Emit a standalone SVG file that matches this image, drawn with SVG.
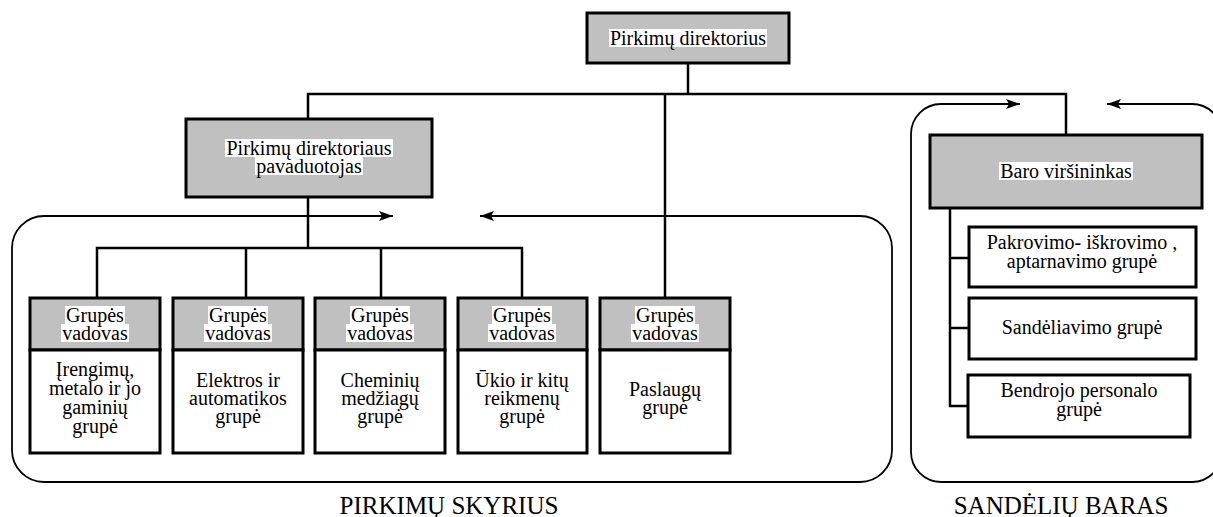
<svg xmlns="http://www.w3.org/2000/svg" width="1213" height="517" viewBox="0 0 1213 517" font-family="'Liberation Serif', 'Times New Roman', serif">
  <style>
    text { font-family: "Liberation Serif", "Times New Roman", serif; font-size: 20px; fill: #000; text-anchor: middle; }
    .mark { fill: #fff; }
    .box { stroke: #000; stroke-width: 3; }
    .gray { fill: #c0c0c0; }
    .white { fill: #fff; }
    .wire { fill: none; stroke: #000; stroke-width: 2.5; stroke-linejoin: miter; }
    .frame { fill: none; stroke: #000; stroke-width: 1.8; }
    .unit { font-size: 25px; }
  </style>
  <defs>
    <marker id="arr" viewBox="0 0 14 10" refX="14" refY="5" markerWidth="14" markerHeight="10" markerUnits="userSpaceOnUse" orient="auto-start-reverse">
      <path d="M0,0 L14,5 L0,10 L3,5 Z" fill="#000"/>
    </marker>
  </defs>

  <!-- department frames -->
  <g id="frames">
    <path class="frame" marker-start="url(#arr)" marker-end="url(#arr)"
          d="M393,216 H44 A32,32 0 0 0 12,248 V450 A32,32 0 0 0 44,482 H860 A32,32 0 0 0 892,450 V248 A32,32 0 0 0 860,216 H480"/>
    <path class="frame" marker-start="url(#arr)" marker-end="url(#arr)"
          d="M1020,104 H941 A30,30 0 0 0 911,134 V452 A30,30 0 0 0 941,482 H1192 A30,30 0 0 0 1222,452 V134 A30,30 0 0 0 1192,104 H1107"/>
  </g>

  <!-- connectors -->
  <g id="connectors">
    <polyline class="wire" points="688,63 688,94"/>
    <polyline class="wire" points="308,119 308,94 1066,94 1066,135"/>
    <polyline class="wire" points="665,94 665,298"/>
    <polyline class="wire" points="308,197 308,248"/>
    <polyline class="wire" points="97,298 97,248 522,248 522,298"/>
    <polyline class="wire" points="246,248 246,298"/>
    <polyline class="wire" points="381,248 381,298"/>
    <polyline class="wire" points="950,208 950,406 968,406"/>
    <polyline class="wire" points="950,258 969,258"/>
    <polyline class="wire" points="950,328 969,328"/>
  </g>

  <!-- top level -->
  <g id="director">
    <rect class="box gray" x="587" y="13" width="202" height="50"/>
    <rect class="mark" x="609" y="29" width="158" height="18"/>
    <text x="688" y="45">Pirkimų direktorius</text>
  </g>

  <g id="deputy">
    <rect class="box gray" x="186" y="119" width="246" height="78"/>
    <rect class="mark" x="225" y="139" width="168" height="18"/>
    <rect class="mark" x="255" y="157" width="108" height="18"/>
    <text x="309" y="155">Pirkimų direktoriaus</text>
    <text x="309" y="173">pavaduotojas</text>
  </g>

  <g id="warehouse-head">
    <rect class="box gray" x="930" y="135" width="272" height="73"/>
    <rect class="mark" x="999" y="162" width="134" height="18"/>
    <text x="1066" y="178">Baro viršininkas</text>
  </g>

  <!-- purchasing groups -->
  <g id="group-1">
    <rect class="box gray" x="30" y="298" width="130" height="52"/>
    <rect class="box white" x="30" y="350" width="130" height="103"/>
    <rect class="mark" x="65" y="306" width="60" height="18"/>
    <rect class="mark" x="61" y="324" width="68" height="18"/>
    <text x="95" y="322">Grupės</text>
    <text x="95" y="340">vadovas</text>
    <text x="95" y="376">Įrengimų,</text>
    <text x="95" y="395">metalo ir jo</text>
    <text x="95" y="414">gaminių</text>
    <text x="95" y="433">grupė</text>
  </g>

  <g id="group-2">
    <rect class="box gray" x="173" y="298" width="130" height="52"/>
    <rect class="box white" x="173" y="350" width="130" height="103"/>
    <rect class="mark" x="208" y="306" width="60" height="18"/>
    <rect class="mark" x="204" y="324" width="68" height="18"/>
    <text x="238" y="322">Grupės</text>
    <text x="238" y="340">vadovas</text>
    <text x="238" y="387">Elektros ir</text>
    <text x="238" y="405">automatikos</text>
    <text x="238" y="423">grupė</text>
  </g>

  <g id="group-3">
    <rect class="box gray" x="315" y="298" width="130" height="52"/>
    <rect class="box white" x="315" y="350" width="130" height="103"/>
    <rect class="mark" x="350" y="306" width="60" height="18"/>
    <rect class="mark" x="346" y="324" width="68" height="18"/>
    <text x="380" y="322">Grupės</text>
    <text x="380" y="340">vadovas</text>
    <text x="380" y="387">Cheminių</text>
    <text x="380" y="405">medžiagų</text>
    <text x="380" y="423">grupė</text>
  </g>

  <g id="group-4">
    <rect class="box gray" x="458" y="298" width="129" height="52"/>
    <rect class="box white" x="458" y="350" width="129" height="103"/>
    <rect class="mark" x="492" y="306" width="60" height="18"/>
    <rect class="mark" x="488" y="324" width="68" height="18"/>
    <text x="522" y="322">Grupės</text>
    <text x="522" y="340">vadovas</text>
    <text x="522" y="387">Ūkio ir kitų</text>
    <text x="522" y="405">reikmenų</text>
    <text x="522" y="423">grupė</text>
  </g>

  <g id="group-5">
    <rect class="box gray" x="600" y="298" width="130" height="52"/>
    <rect class="box white" x="600" y="350" width="130" height="103"/>
    <rect class="mark" x="635" y="306" width="60" height="18"/>
    <rect class="mark" x="631" y="324" width="68" height="18"/>
    <text x="665" y="322">Grupės</text>
    <text x="665" y="340">vadovas</text>
    <text x="665" y="396">Paslaugų</text>
    <text x="665" y="414">grupė</text>
  </g>

  <!-- warehouse groups -->
  <g id="loading">
    <rect class="box white" x="969" y="227" width="227" height="60"/>
    <text x="1082" y="249">Pakrovimo- iškrovimo ,</text>
    <text x="1082" y="268">aptarnavimo grupė</text>
  </g>

  <g id="storage">
    <rect class="box white" x="969" y="298" width="227" height="61"/>
    <text x="1082" y="334">Sandėliavimo grupė</text>
  </g>

  <g id="staff">
    <rect class="box white" x="968" y="375" width="222" height="62"/>
    <text x="1079" y="397">Bendrojo personalo</text>
    <text x="1079" y="416">grupė</text>
  </g>

  <!-- department captions -->
  <g id="captions">
    <text class="unit" x="449" y="514">PIRKIMŲ SKYRIUS</text>
    <text class="unit" x="1061" y="514">SANDĖLIŲ BARAS</text>
  </g>
</svg>
